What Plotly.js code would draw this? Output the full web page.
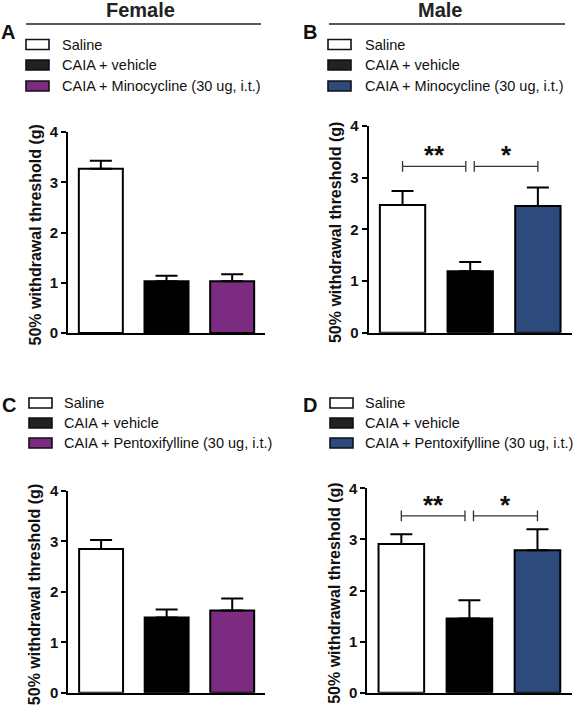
<!DOCTYPE html>
<html>
<head>
<meta charset="utf-8">
<script src="https://cdn.plot.ly/plotly-3.0.1.min.js"></script>
<style>html,body{margin:0;padding:0;background:#fff;}#chart{width:578px;height:705px;}</style>
</head>
<body>
<div id="chart"></div>
<script>
// ---- data ----
const labelsMino = ['Saline', 'CAIA + vehicle', 'CAIA + Minocycline (30 ug, i.t.)'];
const labelsPento = ['Saline', 'CAIA + vehicle', 'CAIA + Pentoxifylline (30 ug, i.t.)'];
const femaleMinoMean = [3.27, 1.03, 1.03];
const femaleMinoSEM  = [0.16, 0.11, 0.14];
const maleMinoMean   = [2.47, 1.19, 2.45];
const maleMinoSEM    = [0.27, 0.18, 0.36];
const femalePentoMean = [2.85, 1.49, 1.63];
const femalePentoSEM  = [0.18, 0.16, 0.24];
const malePentoMean   = [2.91, 1.45, 2.79];
const malePentoSEM    = [0.19, 0.36, 0.41];
const sexTitles = ['Female', 'Male'];
const panelLetters = ['A', 'B', 'C', 'D'];
const sigLabels = ['**', '*'];
const yTitle = '50% withdrawal threshold (g)';
const yTicks = [0, 1, 2, 3, 4];

// ---- style ----
const W = 578, H = 705;
const FONT = 'Liberation Sans, Arial, Helvetica, sans-serif';
const PURPLE = '#7c2c80';
const BLUE = '#2e4a7c';
const colorsF = ['#ffffff', '#000000', PURPLE];
const colorsM = ['#ffffff', '#000000', BLUE];
const px = x => x / W;
const py = y => 1 - y / H;

const panels = [
  {labels: labelsMino,  mean: femaleMinoMean,  sem: femaleMinoSEM,  colors: colorsF, xd: [68, 265],   yd: [333, 132], sig: null},
  {labels: labelsMino,  mean: maleMinoMean,    sem: maleMinoSEM,    colors: colorsM, xd: [368.7, 571.7], yd: [332.7, 126], sig: 3.22},
  {labels: labelsPento, mean: femalePentoMean, sem: femalePentoSEM, colors: colorsF, xd: [68.3, 265], yd: [692.7, 491], sig: null},
  {labels: labelsPento, mean: malePentoMean,   sem: malePentoSEM,   colors: colorsM, xd: [367.3, 571.5], yd: [692.7, 488.3], sig: 3.46}
];

const data = [];
const layout = {
  width: W, height: H,
  margin: {l: 0, r: 0, t: 0, b: 0},
  paper_bgcolor: '#fff', plot_bgcolor: 'rgba(0,0,0,0)',
  showlegend: false,
  font: {family: FONT, color: '#000'},
  shapes: [], annotations: []
};

panels.forEach((p, i) => {
  const n = i === 0 ? '' : String(i + 1);
  const xa = 'x' + n, ya = 'y' + n;
  data.push({
    type: 'bar', x: p.labels, y: p.mean, xaxis: xa, yaxis: ya,
    width: 0.67,
    marker: {color: p.colors, line: {color: '#000', width: 2}},
    error_y: {type: 'data', symmetric: false, array: p.sem, arrayminus: p.mean.map(() => 0),
              color: '#000', thickness: 2, width: 11},
    hoverinfo: 'skip'
  });
  layout['xaxis' + n] = {
    domain: [px(p.xd[0]), px(p.xd[1])], anchor: ya, type: 'category',
    range: [-0.5, 2.5], showline: true, linewidth: 2, linecolor: '#000',
    showticklabels: false, ticks: '', showgrid: false, zeroline: false, fixedrange: true
  };
  layout['yaxis' + n] = {
    domain: [py(p.yd[0]), py(p.yd[1])], anchor: xa,
    range: [0, 4], tickvals: yTicks, ticks: 'outside', ticklen: 5, tickwidth: 2, tickcolor: '#000',
    showline: true, linewidth: 2, linecolor: '#000', showgrid: false, zeroline: false,
    tickfont: {family: FONT, size: 15, weight: 'bold', color: '#111'}, fixedrange: true
  };
  // y title
  const ymid = (p.yd[0] + p.yd[1]) / 2 + 3;
  layout.annotations.push({
    xref: 'paper', yref: 'paper', x: px(p.xd[0] - 33), y: py(ymid),
    text: yTitle, textangle: -90, showarrow: false, xanchor: 'center', yanchor: 'middle',
    font: {family: FONT, size: 16, weight: 'bold', color: '#111'}
  });
  // significance brackets
  if (p.sig !== null) {
    const h = 0.105;
    const segs = [[0, 0.935], [1.06, 2]];
    segs.forEach((s, k) => {
      const lc = {color: '#333', width: 1.3};
      layout.shapes.push({type: 'line', xref: xa, yref: ya, x0: s[0], x1: s[1], y0: p.sig, y1: p.sig, line: lc});
      layout.shapes.push({type: 'line', xref: xa, yref: ya, x0: s[0], x1: s[0], y0: p.sig - h, y1: p.sig + h, line: lc});
      layout.shapes.push({type: 'line', xref: xa, yref: ya, x0: s[1], x1: s[1], y0: p.sig - h, y1: p.sig + h, line: lc});
      layout.annotations.push({
        xref: xa, yref: ya, x: (s[0] + s[1]) / 2, y: p.sig, yanchor: 'bottom', yshift: -6,
        text: sigLabels[k], showarrow: false,
        font: {family: FONT, size: 26, weight: 'bold', color: '#111'}
      });
    });
  }
});

// headers
const headerCenters = [140, 440];
const headerLines = [[26, 261], [329, 565]];
sexTitles.forEach((t, i) => {
  layout.annotations.push({xref: 'paper', yref: 'paper', x: px(headerCenters[i]), y: 1,
    text: t, showarrow: false, xanchor: 'center', yanchor: 'top', borderpad: 0, yshift: 2,
    font: {family: FONT, size: 20, weight: 'bold', color: '#222'}});
  layout.shapes.push({type: 'line', xref: 'paper', yref: 'paper',
    x0: px(headerLines[i][0]), x1: px(headerLines[i][1]), y0: py(24), y1: py(24),
    line: {color: '#222', width: 1.6}});
});

// panel letters
const letterPos = [[8, 32], [310, 32], [8.5, 405], [310, 405]];
panelLetters.forEach((l, i) => {
  layout.annotations.push({xref: 'paper', yref: 'paper', x: px(letterPos[i][0]), y: py(letterPos[i][1]),
    text: l, showarrow: false, xanchor: 'center', yanchor: 'middle',
    font: {family: FONT, size: 20, weight: 'bold', color: '#111'}});
});

// legends (boxes + text)
const legendDefs = [
  {labels: labelsMino,  colors: colorsF, bx: 26,  tx: 60,    rows: [44.5, 65, 86]},
  {labels: labelsMino,  colors: colorsM, bx: 328, tx: 363.3, rows: [44.5, 65, 86]},
  {labels: labelsPento, colors: colorsF, bx: 29,  tx: 61.7,  rows: [403, 423, 443]},
  {labels: labelsPento, colors: colorsM, bx: 330, tx: 362.7, rows: [403, 423, 443]}
];
legendDefs.forEach(L => {
  L.labels.forEach((lab, k) => {
    const yc = L.rows[k];
    layout.shapes.push({type: 'rect', xref: 'paper', yref: 'paper',
      x0: px(L.bx), x1: px(L.bx + 23), y0: py(yc + 5), y1: py(yc - 5),
      fillcolor: k === 1 ? '#222' : L.colors[k], line: {color: '#111', width: 1.6}});
    layout.annotations.push({xref: 'paper', yref: 'paper', x: px(L.tx), y: py(yc),
      text: lab, showarrow: false, xanchor: 'left', yanchor: 'middle',
      font: {family: FONT, size: 14.5, color: '#111'}});
  });
});

Plotly.newPlot('chart', data, layout, {staticPlot: true, displayModeBar: false});
</script>
</body>
</html>
